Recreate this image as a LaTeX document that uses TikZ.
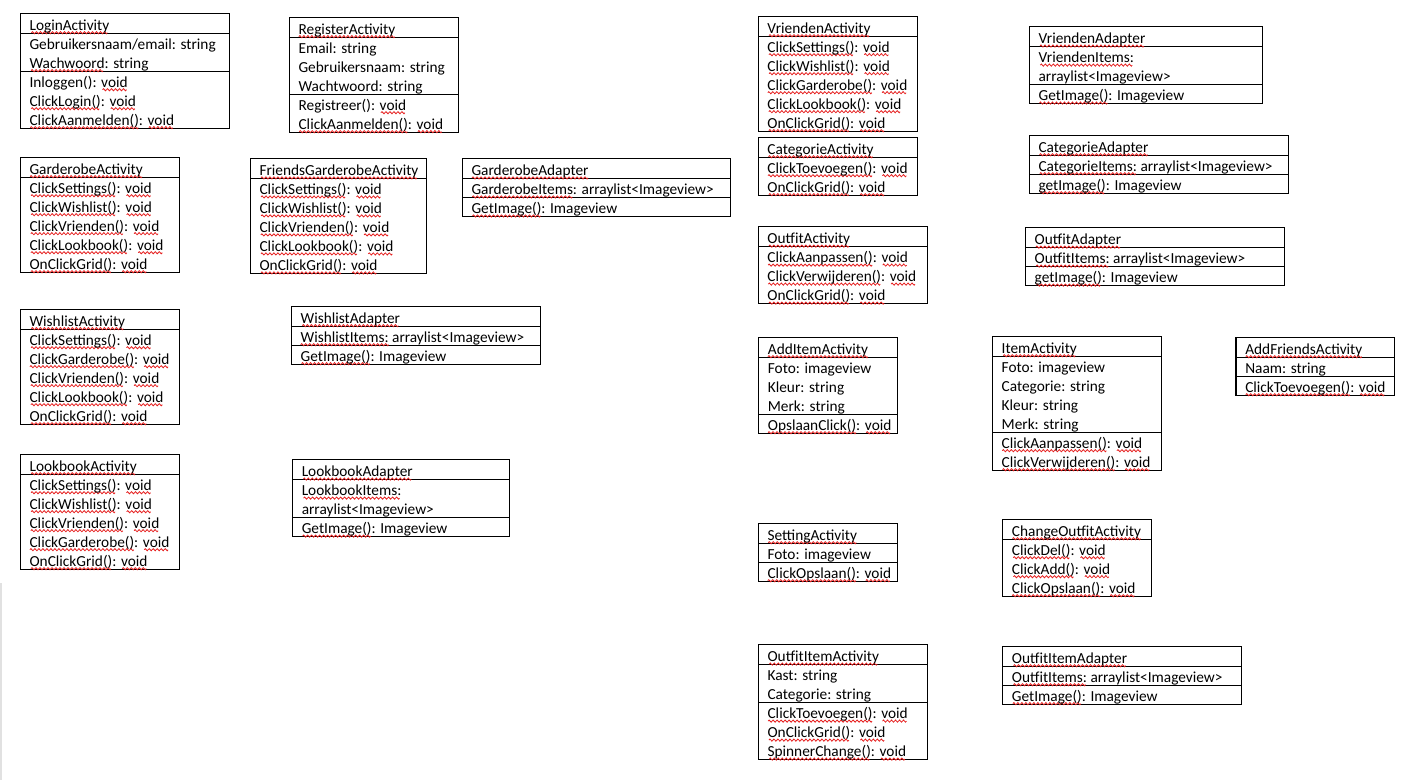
\documentclass[tikz,border=0pt]{standalone}
\usepackage{fontspec}
\setmainfont{Carlito}
\definecolor{squig}{RGB}{230,30,30}
\definecolor{faint}{RGB}{225,225,225}
\newsavebox\wavebox
\newsavebox\sqbox
\newcommand\sq[1]{\sbox\sqbox{#1}\rlap{\lower2.6pt\hbox to\wd\sqbox{\cleaders\copy\wavebox\hfil}}\usebox\sqbox}
\tikzset{
  box/.style={draw=black, line width=0.8pt},
  txt/.style={anchor=base west, inner sep=0pt, font=\fontsize{11.5pt}{13pt}\selectfont}
}
% #1 name, #2 left, #3 top, #4 right, #5 nattr, #6 nmeth, #7 title, #8 attrs, #9 methods
\newcommand\umlcls[9]{%
  \pgfmathsetmacro\yA{#3+20}%
  \pgfmathsetmacro\yB{\yA+19*#5}%
  \pgfmathsetmacro\yC{\yB+19*#6}%
  \draw[box] (#2,#3) rectangle (#4,\yC);
  \draw[box] (#2,\yA) -- (#4,\yA);
  \ifnum#5>0 \draw[box] (#2,\yB) -- (#4,\yB);\fi
  \node[txt] (#1-t) at (#2+9,\yA-3) {#7};
  \ifnum#5>0
    \foreach \s [count=\i] in {#8} {\node[txt] (#1-a\i) at (#2+9,\yA+19*\i-3) {\s};}
  \fi
  \foreach \s [count=\i] in {#9} {\node[txt] (#1-m\i) at (#2+9,\yB+19*\i-3) {\s};}
}
\begin{document}
\sbox\wavebox{\pgfpicture
  \pgfpathrectangle{\pgfpoint{0pt}{-0.8pt}}{\pgfpoint{3pt}{1.6pt}}%
  \pgfusepath{use as bounding box}%
  \pgfsetlinewidth{0.6pt}%
  \pgfsetstrokecolor{squig}%
  \pgfpathmoveto{\pgfpointorigin}%
  \pgfpathsine{\pgfpoint{0.75pt}{0.8pt}}%
  \pgfpathcosine{\pgfpoint{0.75pt}{-0.8pt}}%
  \pgfpathsine{\pgfpoint{0.75pt}{-0.8pt}}%
  \pgfpathcosine{\pgfpoint{0.75pt}{0.8pt}}%
  \pgfusepath{stroke}%
\endpgfpicture}%
\begin{tikzpicture}[x=0.75pt,y=-0.75pt]
\useasboundingbox (0,0) rectangle (1404,782);
\fill[white] (0,0) rectangle (1404,782);
\draw[faint, line width=1.2pt] (1,583) -- (1,780);

\umlcls{login}{20.3}{13.3}{229.7}{2}{3}{\sq{LoginActivity}}
  {Gebruikersnaam/email: string,\sq{Wachwoord}: string}
  {Inloggen(): \sq{void},\sq{ClickLogin()}: \sq{void},\sq{ClickAanmelden()}: \sq{void}}

\umlcls{register}{289.3}{17.3}{458.3}{3}{2}{\sq{RegisterActivity}}
  {Email: string,Gebruikersnaam: string,Wachtwoord: string}
  {Registreer(): \sq{void},\sq{ClickAanmelden()}: \sq{void}}

\umlcls{garderobe}{20.3}{157.3}{179.3}{0}{5}{\sq{GarderobeActivity}}{}
  {\sq{ClickSettings()}: \sq{void},\sq{ClickWishlist()}: \sq{void},\sq{ClickVrienden()}: \sq{void},\sq{ClickLookbook()}: \sq{void},\sq{OnClickGrid()}: \sq{void}}

\umlcls{friendsg}{250.3}{158.5}{426.3}{0}{5}{\sq{FriendsGarderobeActivity}}{}
  {\sq{ClickSettings()}: \sq{void},\sq{ClickWishlist()}: \sq{void},\sq{ClickVrienden()}: \sq{void},\sq{ClickLookbook()}: \sq{void},\sq{OnClickGrid()}: \sq{void}}

\umlcls{gadapter}{462.3}{158.5}{730.7}{1}{1}{\sq{GarderobeAdapter}}
  {\sq{GarderobeItems}: arraylist<Imageview>}
  {\sq{GetImage()}: Imageview}

\umlcls{wishlist}{20.3}{309.3}{179.3}{0}{5}{\sq{WishlistActivity}}{}
  {\sq{ClickSettings()}: \sq{void},\sq{ClickGarderobe()}: \sq{void},\sq{ClickVrienden()}: \sq{void},\sq{ClickLookbook()}: \sq{void},\sq{OnClickGrid()}: \sq{void}}

\umlcls{wadapter}{291.4}{306.3}{540.5}{1}{1}{\sq{WishlistAdapter}}
  {\sq{WishlistItems:} arraylist<Imageview>}
  {\sq{GetImage()}: Imageview}

\umlcls{lookbook}{20.3}{454.3}{179.3}{0}{5}{\sq{LookbookActivity}}{}
  {\sq{ClickSettings()}: \sq{void},\sq{ClickWishlist()}: \sq{void},\sq{ClickVrienden()}: \sq{void},\sq{ClickGarderobe()}: \sq{void},\sq{OnClickGrid()}: \sq{void}}

\umlcls{ladapter}{292.5}{459.7}{509.3}{2}{1}{\sq{LookbookAdapter}}
  {\sq{LookbookItems:},arraylist<Imageview>}
  {\sq{GetImage()}: Imageview}

\umlcls{vrienden}{758.2}{16.3}{917.5}{0}{5}{\sq{VriendenActivity}}{}
  {\sq{ClickSettings()}: \sq{void},\sq{ClickWishlist()}: \sq{void},\sq{ClickGarderobe()}: \sq{void},\sq{ClickLookbook()}: \sq{void},\sq{OnClickGrid()}: \sq{void}}

\umlcls{vadapter}{1029.3}{26.7}{1262.5}{2}{1}{\sq{VriendenAdapter}}
  {\sq{VriendenItems:},arraylist<Imageview>}
  {\sq{GetImage()}: Imageview}

\umlcls{categorie}{758.2}{137.3}{917.5}{0}{2}{\sq{CategorieActivity}}{}
  {\sq{ClickToevoegen()}: \sq{void},\sq{OnClickGrid()}: \sq{void}}

\umlcls{cadapter}{1029.3}{135.3}{1288.2}{1}{1}{\sq{CategorieAdapter}}
  {\sq{CategorieItems:} arraylist<Imageview>}
  {\sq{getImage()}: Imageview}

\umlcls{outfit}{758.2}{226.7}{927.5}{0}{3}{\sq{OutfitActivity}}{}
  {\sq{ClickAanpassen()}: \sq{void},\sq{ClickVerwijderen()}: \sq{void},\sq{OnClickGrid()}: \sq{void}}

\umlcls{oadapter}{1025.4}{227.7}{1284.3}{1}{1}{\sq{OutfitAdapter}}
  {\sq{OutfitItems:} arraylist<Imageview>}
  {\sq{getImage()}: Imageview}

\umlcls{additem}{758.6}{337.3}{897.6}{3}{1}{\sq{AddItemActivity}}
  {Foto: imageview,Kleur: string,Merk: string}
  {\sq{OpslaanClick()}: \sq{void}}

\umlcls{item}{992.4}{336.3}{1161.8}{4}{2}{\sq{ItemActivity}}
  {Foto: imageview,Categorie: string,Kleur: string,Merk: string}
  {\sq{ClickAanpassen()}: \sq{void},\sq{ClickVerwijderen()}: \sq{void}}

\umlcls{addfriends}{1236}{337.3}{1394.8}{1}{1}{\sq{AddFriendsActivity}}
  {Naam: string}
  {\sq{ClickToevoegen()}: \sq{void}}

\umlcls{setting}{758.3}{523.3}{897.3}{1}{1}{\sq{SettingActivity}}
  {Foto: imageview}
  {\sq{ClickOpslaan()}: \sq{void}}

\umlcls{changeoutfit}{1002.7}{519.3}{1151.7}{0}{3}{\sq{ChangeOutfitActivity}}{}
  {\sq{ClickDel()}: \sq{void},\sq{ClickAdd()}: \sq{void},\sq{ClickOpslaan()}: \sq{void}}

\umlcls{outfititem}{758.3}{644.7}{927.7}{2}{3}{\sq{OutfitItemActivity}}
  {Kast: string,Categorie: string}
  {\sq{ClickToevoegen()}: \sq{void},\sq{OnClickGrid()}: \sq{void},\sq{SpinnerChange()}: \sq{void}}

\umlcls{oiadapter}{1002.7}{646.3}{1241.7}{1}{1}{\sq{OutfitItemAdapter}}
  {\sq{OutfitItems:} arraylist<Imageview>}
  {\sq{GetImage()}: Imageview}
\end{tikzpicture}
\end{document}
